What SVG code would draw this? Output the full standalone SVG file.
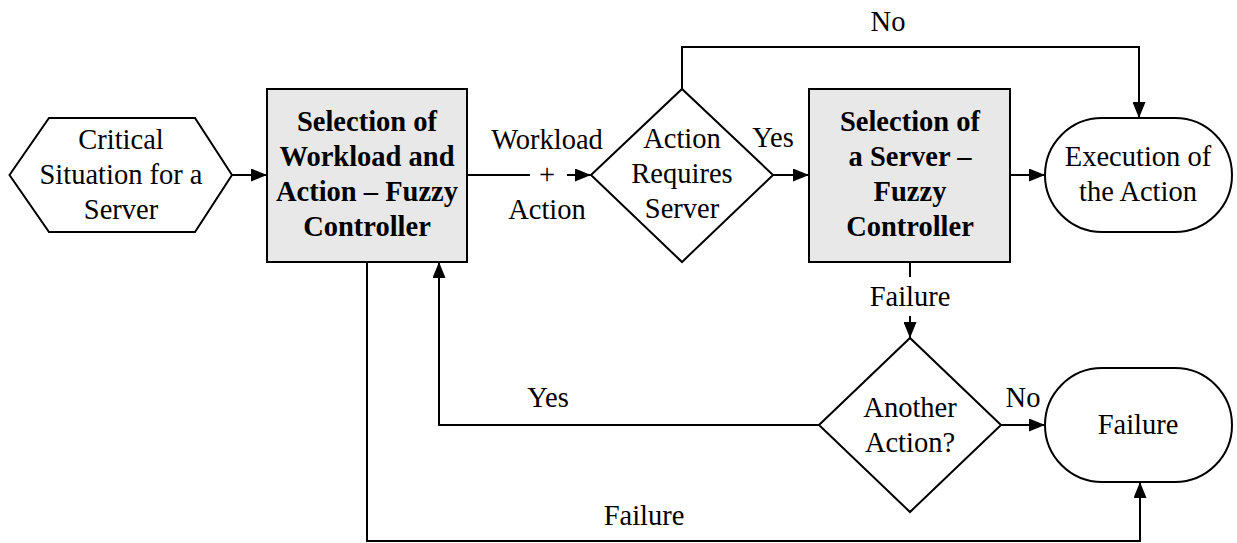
<svg xmlns="http://www.w3.org/2000/svg" width="1237" height="543" viewBox="0 0 1237 543">
  <style>
    .shape { fill: #ffffff; stroke: #000000; stroke-width: 2; }
    .proc { fill: #e8e8e8; stroke: #000000; stroke-width: 2; }
    .wire { fill: none; stroke: #000000; stroke-width: 2; }
    .arrow { fill: none; stroke: #000000; stroke-width: 2; marker-end: url(#head); }
    text { font-family: 'Liberation Serif', 'Times New Roman', serif; font-size: 28.5px; fill: #000000; text-anchor: middle; }
    .bold { font-weight: bold; }
  </style>
  <defs>
    <marker id="head" markerUnits="userSpaceOnUse" markerWidth="16" markerHeight="13" refX="16" refY="6.5" orient="auto">
      <path d="M0,0 L16,6.5 L0,13 Z" fill="#000000"/>
    </marker>
  </defs>
  <rect width="1237" height="543" fill="#ffffff"/>

  <!-- connectors -->
  <g id="connectors">
    <line class="arrow" x1="232" y1="175" x2="267" y2="175"/>
    <line class="wire" x1="467" y1="175" x2="530" y2="175"/>
    <line class="arrow" x1="567" y1="175" x2="591" y2="175"/>
    <line class="arrow" x1="773" y1="175" x2="809" y2="175"/>
    <polyline class="arrow" points="682,89 682,47 1139,47 1139,118"/>
    <line class="arrow" x1="1010" y1="175" x2="1045" y2="175"/>
    <line class="wire" x1="910" y1="262" x2="910" y2="277"/>
    <line class="arrow" x1="910" y1="316" x2="910" y2="338"/>
    <line class="arrow" x1="1001" y1="425" x2="1045" y2="425"/>
    <polyline class="arrow" points="819,425 439,425 439,262"/>
    <polyline class="arrow" points="367,262 367,541 1140,541 1140,482"/>

    <text x="547" y="149">Workload</text>
    <text x="547" y="184">+</text>
    <text x="547" y="219">Action</text>
    <text x="773" y="147">Yes</text>
    <text x="888" y="31">No</text>
    <text x="910" y="306">Failure</text>
    <text x="1023" y="407">No</text>
    <text x="548" y="407">Yes</text>
    <text x="644" y="525">Failure</text>
  </g>

  <!-- start: critical situation -->
  <g id="critical-situation">
    <polygon class="shape" points="9.5,175 49,118 195,118 232,175 195,232 49,232"/>
    <text x="121" y="149">Critical</text>
    <text x="121" y="184">Situation for a</text>
    <text x="121" y="219">Server</text>
  </g>

  <!-- fuzzy controller: workload and action -->
  <g id="select-workload">
    <rect class="proc" x="267" y="89" width="200" height="173"/>
    <text class="bold" x="367" y="131">Selection of</text>
    <text class="bold" x="367" y="166">Workload and</text>
    <text class="bold" x="367" y="201">Action – Fuzzy</text>
    <text class="bold" x="367" y="236">Controller</text>
  </g>

  <!-- decision: does the action need a server -->
  <g id="requires-server">
    <polygon class="shape" points="591,175 682,89 773,175 682,262"/>
    <text x="682" y="148">Action</text>
    <text x="682" y="183">Requires</text>
    <text x="682" y="218">Server</text>
  </g>

  <!-- fuzzy controller: server -->
  <g id="select-server">
    <rect class="proc" x="809" y="89" width="201" height="173"/>
    <text class="bold" x="910" y="131">Selection of</text>
    <text class="bold" x="910" y="166">a Server –</text>
    <text class="bold" x="910" y="201">Fuzzy</text>
    <text class="bold" x="910" y="236">Controller</text>
  </g>

  <!-- end: execution -->
  <g id="execution">
    <rect class="shape" x="1045" y="118" width="187" height="114" rx="57" ry="57"/>
    <text x="1138" y="166">Execution of</text>
    <text x="1138" y="201">the Action</text>
  </g>

  <!-- decision: retry with another action -->
  <g id="another-action">
    <polygon class="shape" points="819,425 910,338 1001,425 910,512"/>
    <text x="910" y="417">Another</text>
    <text x="910" y="452">Action?</text>
  </g>

  <!-- end: failure -->
  <g id="failure">
    <rect class="shape" x="1045" y="368" width="187" height="114" rx="57" ry="57"/>
    <text x="1138" y="434">Failure</text>
  </g>
</svg>
